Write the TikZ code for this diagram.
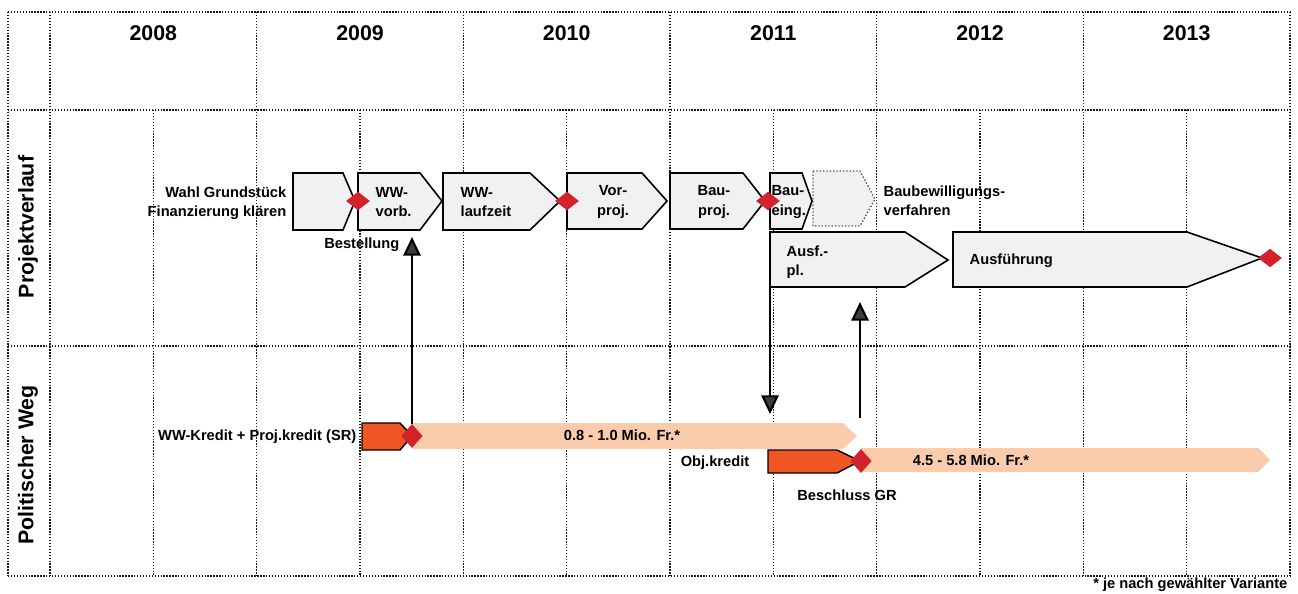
\documentclass[tikz,border=0pt]{standalone}
\usepackage{fontspec}
\setmainfont{Liberation Sans}
\usepackage{tikz}
\usetikzlibrary{shapes.geometric,arrows.meta}
\definecolor{phasegray}{RGB}{240,241,243}
\definecolor{peach}{RGB}{250,204,172}
\definecolor{kreditorange}{RGB}{240,86,36}
\definecolor{milered}{RGB}{212,34,44}
\definecolor{headgray}{RGB}{60,60,60}

\begin{document}
\begin{tikzpicture}[x=0.75pt,y=-0.75pt,
  font=\bfseries\fontsize{11}{14.5}\selectfont,
  gridline/.style={black!90,line width=1.1pt,dash pattern=on 1pt off 1.2pt},
  phase/.style={draw=black,line width=1.2pt,fill=phasegray,line join=miter},
  milestone/.style={diamond,fill=milered,inner sep=0pt,minimum width=18pt,minimum height=14pt},
  kredit/.style={draw=black,line width=1.1pt,fill=kreditorange},
  budget/.style={fill=peach},
  link/.style={line width=1.6pt,-{Triangle[width=13pt,length=14pt,fill=headgray]}},
  yearlabel/.style={font=\bfseries\fontsize{16}{18}\selectfont},
  rowlabel/.style={font=\bfseries\fontsize{16}{18}\selectfont,rotate=90}]
\useasboundingbox (0,0) rectangle (1298,593);
% grid
\foreach \y in {12,110,346,576}
  \draw[gridline] (8,\y) -- (1290,\y);
\foreach \x in {8,50,1290}
  \draw[gridline] (\x,12) -- (\x,576);
\foreach \i in {1,...,5}
  \draw[gridline] ({50+206.67*\i},12) -- ({50+206.67*\i},576);
\foreach \i in {0,...,5}
  \draw[gridline] ({50+206.67*(\i+0.5)},110) -- ({50+206.67*(\i+0.5)},576);
\foreach \yr [count=\i] in {2008,2009,2010,2011,2012,2013}
  \node[yearlabel] (y\yr) at ({50+206.67*(\i-0.5)},33) {\yr};
\node[rowlabel] (rowprojekt) at (28,227) {Projektverlauf};
\node[rowlabel] (rowpolitik) at (28,465) {Politischer Weg};
% Projektverlauf
\draw[phase] (293,173) -- (343,173) -- (355,201) -- (343,230) -- (293,230) -- cycle;
\draw[phase] (358,173) -- (420,173) -- (442,201) -- (420,230) -- (358,230) -- cycle;
\draw[phase] (443,173) -- (530,173) -- (560,201) -- (530,230) -- (443,230) -- cycle;
\draw[phase] (567,173) -- (642,173) -- (667,201) -- (642,229) -- (567,229) -- cycle;
\draw[phase] (670,173) -- (743,173) -- (765,201) -- (743,229) -- (670,229) -- cycle;
\draw[phase] (770,173) -- (802,173) -- (812,201) -- (802,229) -- (770,229) -- cycle;
\draw[fill=phasegray,draw=black!70,line width=1pt,dash pattern=on 1pt off 1.5pt]
  (813,171) -- (860,171) -- (875,199) -- (860,226) -- (813,226) -- cycle;
\draw[phase] (770,232) -- (905,232) -- (948,260) -- (905,287) -- (770,287) -- cycle;
\draw[phase] (953,232) -- (1187,232) -- (1262,258) -- (1187,287) -- (953,287) -- cycle;
\node[milestone] (m1) at (358,201) {};
\node[milestone] (m2) at (567,201) {};
\node[milestone] (m3) at (768,201) {};
\node[milestone] (m4) at (1270,258) {};
\node[anchor=east,align=right] (wahl) at (291,203) {Wahl Grundstück\\Finanzierung klären};
\node[anchor=west,align=left] (wwvorb) at (371,202) {WW-\\vorb.};
\node[anchor=west,align=left] (wwlauf) at (456,202) {WW-\\laufzeit};
\node[align=center] (vorproj) at (613,202) {Vor-\\proj.};
\node[align=center] (bauproj) at (714,202) {Bau-\\proj.};
\node[anchor=west,align=left,inner sep=1pt] (baueing) at (770,202) {Bau-\\eing.};
\node[anchor=west,align=left] (baubew) at (879,201) {Baubewilligungs-\\verfahren};
\node[anchor=west,align=left] (ausfpl) at (782,262) {Ausf.-\\pl.};
\node[anchor=west] (ausf) at (965,261) {Ausführung};
\node[anchor=east] (bestell) at (404,245) {Bestellung};
% Politischer Weg
\fill[budget] (412,423) -- (843,423) -- (857,436) -- (843,449) -- (412,449) -- cycle;
\fill[budget] (861,448) -- (1258,448) -- (1270,460) -- (1258,472) -- (861,472) -- cycle;
\draw[kredit] (362,423) -- (400,423) -- (412,436) -- (400,450) -- (362,450) -- cycle;
\draw[kredit] (768,450) -- (837,450) -- (860,461) -- (837,473) -- (768,473) -- cycle;
\node[milestone,minimum width=16pt,minimum height=18pt] (k1) at (412,436) {};
\node[milestone,minimum width=16pt,minimum height=18pt] (k2) at (861,461) {};
\node[anchor=east] (wwkredit) at (361,437) {WW-Kredit + Proj.kredit (SR)};
\node (budget1) at (622,435) {0.8 - 1.0 Mio. Fr.*};
\node (objkredit) at (715,463) {Obj.kredit};
\node (budget2) at (971,460) {4.5 - 5.8 Mio. Fr.*};
\node (beschluss) at (847,495) {Beschluss GR};
\node[anchor=east] (fussnote) at (1292,585) {* je nach gewählter Variante};
% Verbindungen
\coordinate (bestelltip) at (412,237);
\coordinate (ausfplsw) at (770,287);
\coordinate (objtip) at (770,414);
\coordinate (grstart) at (860,418);
\coordinate (grtip) at (860,302);
\draw[link] (k1.north) -- (bestelltip);
\draw[link] (ausfplsw) -- (objtip);
\draw[link] (grstart) -- (grtip);
\end{tikzpicture}
\end{document}
